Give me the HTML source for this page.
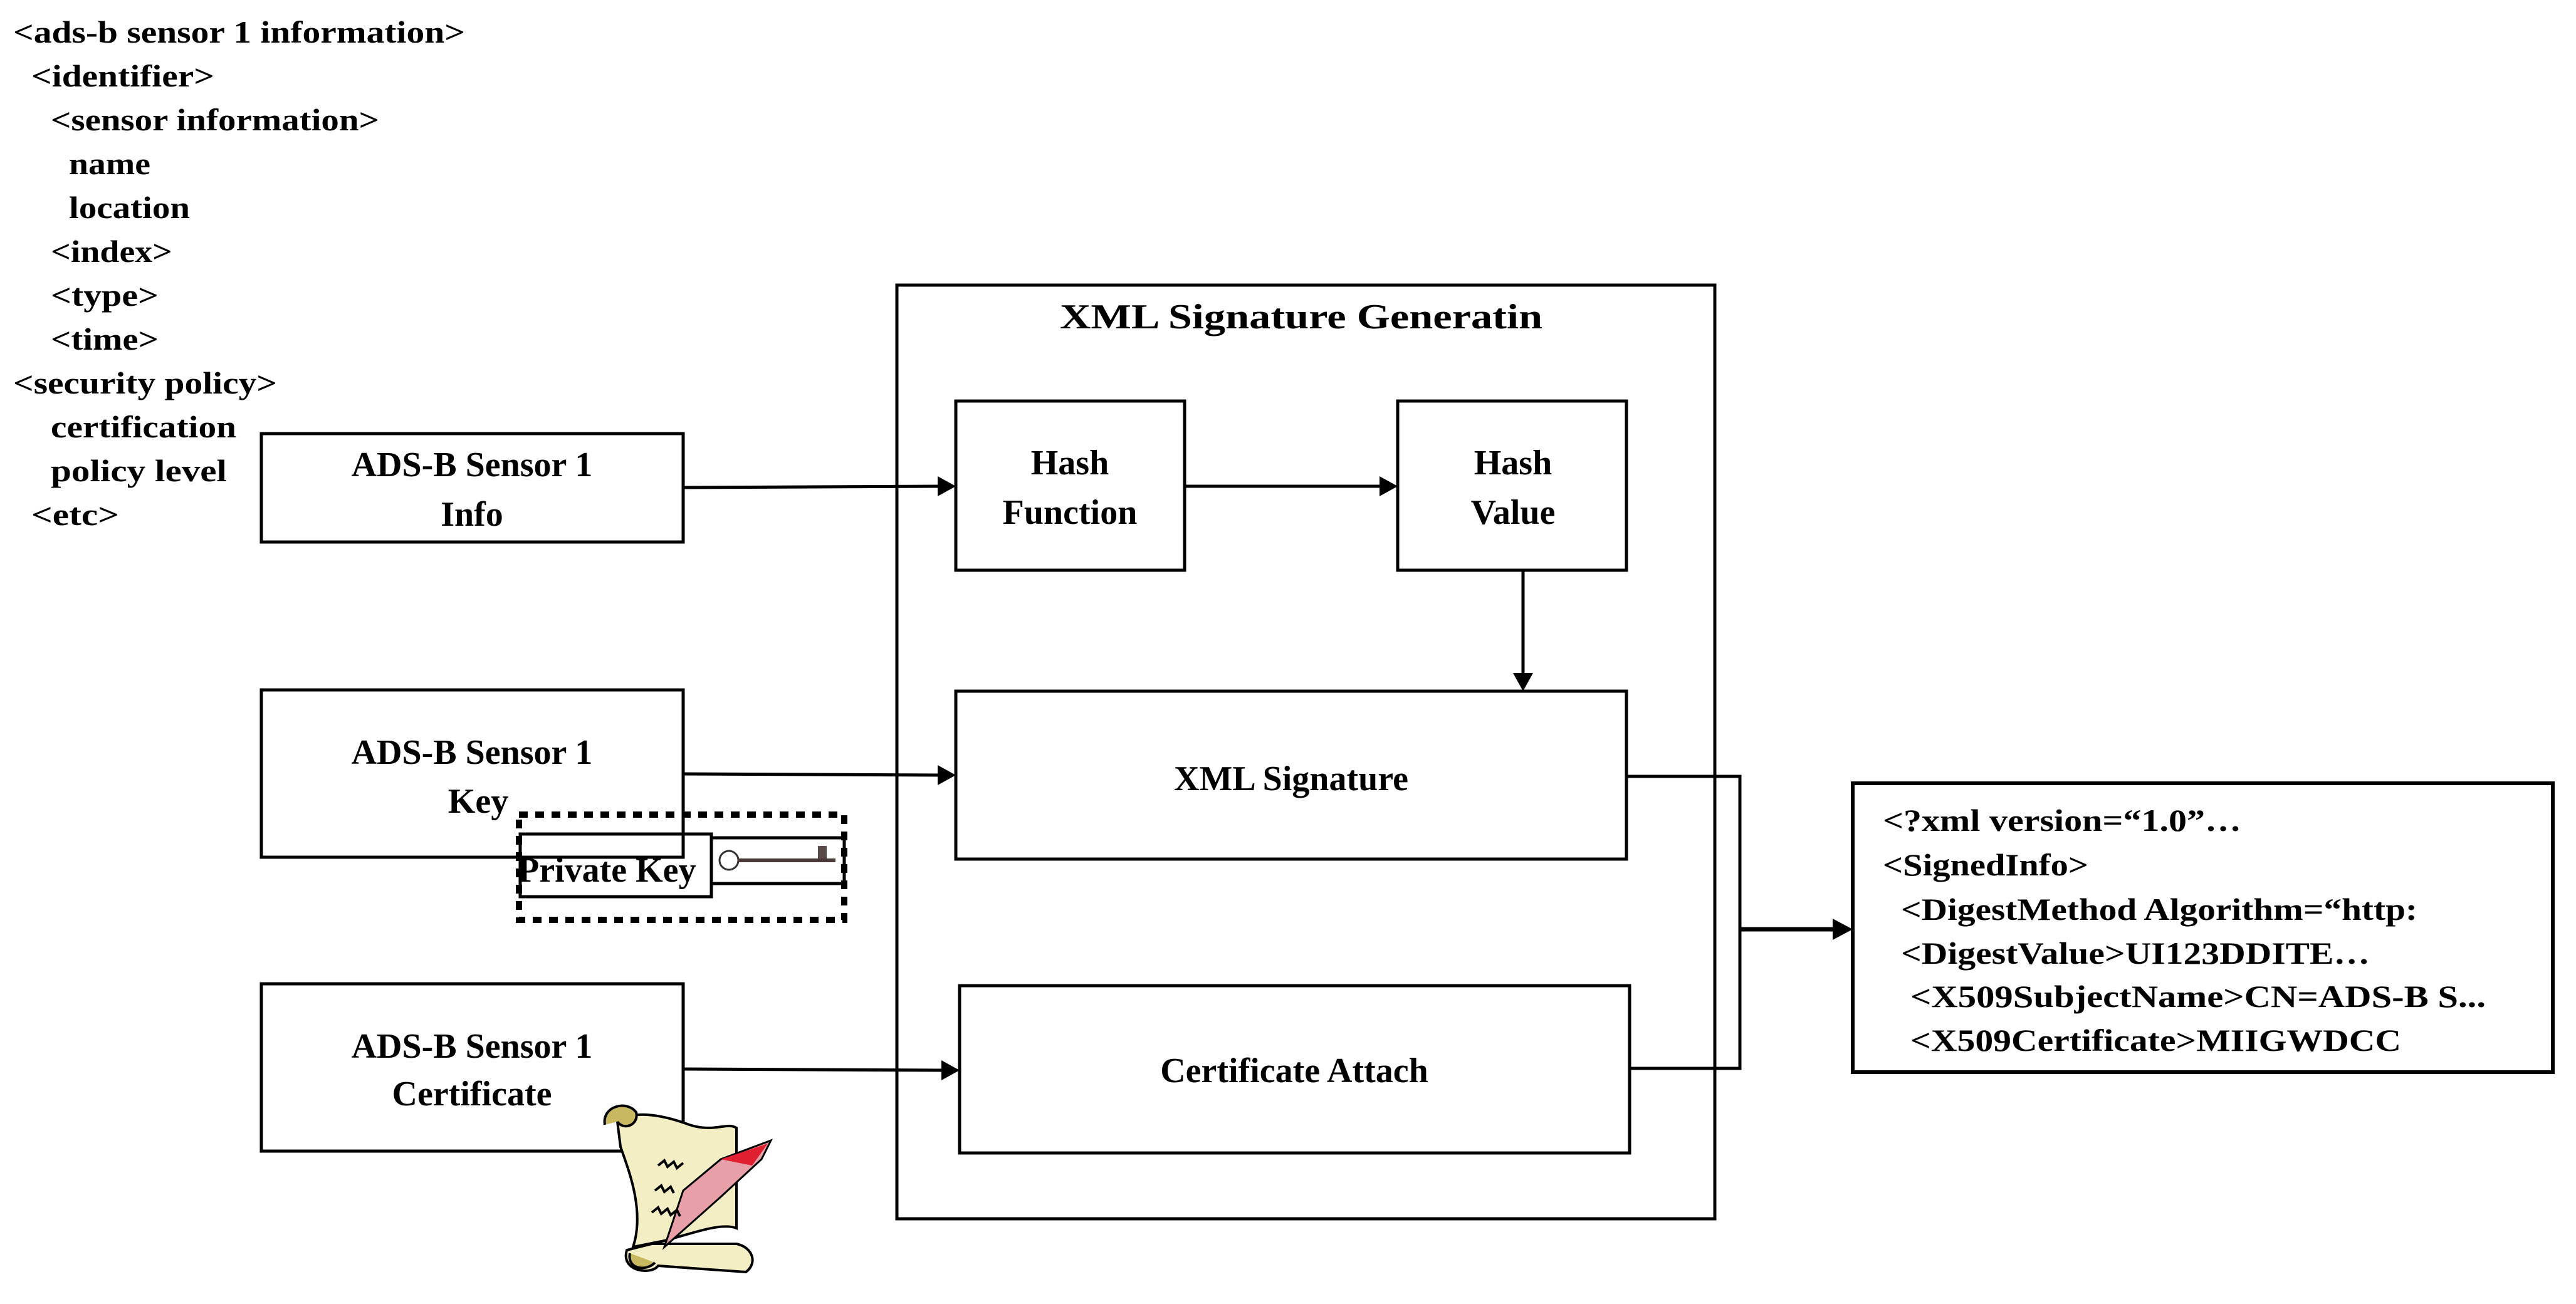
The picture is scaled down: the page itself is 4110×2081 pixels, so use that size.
<!DOCTYPE html>
<html><head><meta charset="utf-8"><style>html,body{margin:0;padding:0;background:#fff}svg{display:block}</style></head>
<body>
<svg xmlns="http://www.w3.org/2000/svg" width="4110" height="2081" viewBox="0 0 4110 2081">
<defs>
<marker id="ah" markerWidth="10" markerHeight="10" refX="9" refY="5" orient="auto" markerUnits="userSpaceOnUse" viewBox="0 0 10 10">
</marker>
</defs>
<g font-family="'Liberation Serif',serif" font-weight="bold" fill="#000">
<g font-size="50">
<text x="21" y="68" textLength="721" lengthAdjust="spacingAndGlyphs">&lt;ads-b sensor 1 information&gt;</text>
<text x="50" y="138" textLength="292" lengthAdjust="spacingAndGlyphs">&lt;identifier&gt;</text>
<text x="81" y="208" textLength="524" lengthAdjust="spacingAndGlyphs">&lt;sensor information&gt;</text>
<text x="110" y="278" textLength="130" lengthAdjust="spacingAndGlyphs">name</text>
<text x="110" y="348" textLength="193" lengthAdjust="spacingAndGlyphs">location</text>
<text x="81" y="418" textLength="194" lengthAdjust="spacingAndGlyphs">&lt;index&gt;</text>
<text x="81" y="488" textLength="172" lengthAdjust="spacingAndGlyphs">&lt;type&gt;</text>
<text x="81" y="558" textLength="172" lengthAdjust="spacingAndGlyphs">&lt;time&gt;</text>
<text x="21" y="628" textLength="421" lengthAdjust="spacingAndGlyphs">&lt;security policy&gt;</text>
<text x="81" y="698" textLength="296" lengthAdjust="spacingAndGlyphs">certification</text>
<text x="81" y="768" textLength="281" lengthAdjust="spacingAndGlyphs">policy level</text>
<text x="50" y="838" textLength="140" lengthAdjust="spacingAndGlyphs">&lt;etc&gt;</text>
</g>
</g>

<g fill="none" stroke="#000" stroke-width="5">
<rect x="1431" y="455" width="1305" height="1490"/>
<rect x="417" y="692" width="673" height="173"/>
<rect x="417" y="1101" width="673" height="267"/>
<rect x="417" y="1570" width="673" height="267"/>
<rect x="1525" y="640" width="365" height="270"/>
<rect x="2230" y="640" width="365" height="270"/>
<rect x="1525" y="1103" width="1070" height="268"/>
<rect x="1531" y="1573" width="1069" height="267"/>
<rect x="2956" y="1250" width="1117" height="461" stroke-width="6"/>
</g>

<g stroke="#000" stroke-width="5" fill="none">
<polyline points="1090,778 1500,776"/>
<polyline points="1890,776 2205,776"/>
<polyline points="2430,910 2430,1078"/>
<polyline points="1090,1235 1500,1237"/>
<polyline points="1090,1706 1506,1708"/>
<polyline points="2595,1239 2776,1239 2776,1705 2600,1705"/>
<polyline points="2776,1483 2930,1483" stroke-width="7"/>
</g>
<g fill="#000">
<polygon points="1525,776 1496,760 1496,792"/>
<polygon points="2230,776 2201,760 2201,792"/>
<polygon points="2430,1103 2414,1074 2446,1074"/>
<polygon points="1525,1237 1496,1221 1496,1253"/>
<polygon points="1531,1708 1502,1692 1502,1724"/>
<polygon points="2956,1483 2924,1466 2924,1500"/>
</g>

<g font-family="'Liberation Serif',serif" font-weight="bold" fill="#000" font-size="56" text-anchor="middle">
<text x="2076" y="524" textLength="770" lengthAdjust="spacingAndGlyphs">XML Signature Generatin</text>
<text x="753" y="760">ADS-B Sensor 1</text>
<text x="753" y="839">Info</text>
<text x="753" y="1219">ADS-B Sensor 1</text>
<text x="763" y="1297">Key</text>
<text x="753" y="1688">ADS-B Sensor 1</text>
<text x="753" y="1764">Certificate</text>
<text x="1707" y="757">Hash</text>
<text x="1707" y="836">Function</text>
<text x="2414" y="757">Hash</text>
<text x="2414" y="836">Value</text>
<text x="2060" y="1261">XML Signature</text>
<text x="2065" y="1727">Certificate Attach</text>
</g>

<g font-family="'Liberation Serif',serif" font-weight="bold" fill="#000" font-size="50">
<text x="3004" y="1326" textLength="572" lengthAdjust="spacingAndGlyphs">&lt;?xml version=“1.0”…</text>
<text x="3004" y="1397" textLength="328" lengthAdjust="spacingAndGlyphs">&lt;SignedInfo&gt;</text>
<text x="3033" y="1468" textLength="824" lengthAdjust="spacingAndGlyphs">&lt;DigestMethod Algorithm=“http:</text>
<text x="3033" y="1538" textLength="748" lengthAdjust="spacingAndGlyphs">&lt;DigestValue&gt;UI123DDITE…</text>
<text x="3048" y="1607" textLength="918" lengthAdjust="spacingAndGlyphs">&lt;X509SubjectName&gt;CN=ADS-B  S...</text>
<text x="3048" y="1677" textLength="783" lengthAdjust="spacingAndGlyphs">&lt;X509Certificate&gt;MIIGWDCC</text>
</g>

<!-- private key -->
<rect x="828" y="1300" width="519" height="168" fill="none" stroke="#000" stroke-width="10" stroke-dasharray="14,12"/>
<rect x="830" y="1331" width="305" height="100" fill="none" stroke="#000" stroke-width="5"/>
<rect x="1135" y="1337" width="212" height="73" fill="none" stroke="#000" stroke-width="5"/>
<text x="826" y="1407" font-family="'Liberation Serif',serif" font-weight="bold" font-size="56">Private Key</text>
<circle cx="1163" cy="1373" r="15" fill="#fff" stroke="#333" stroke-width="3"/>
<rect x="1178" y="1370" width="155" height="6" fill="#4a3a3a"/>
<rect x="1305" y="1350" width="14" height="20" fill="#5a4a4a"/>

<!-- scroll icon -->
<g stroke="#000" stroke-width="4">
<path d="M985,1790 C1010,1770 1060,1780 1100,1795 C1140,1808 1160,1790 1175,1800 L1175,1960 C1150,1950 1100,1970 1060,1980 L1010,1990 C1030,1930 1000,1860 990,1830 Z" fill="#f3eec4"/>
<path d="M965,1795 C960,1765 1000,1755 1015,1775 C1020,1795 995,1805 985,1790" fill="#c8b860"/>
<path d="M1000,1995 C990,2030 1040,2035 1050,2020 L1190,2030 C1210,2015 1200,1990 1175,1985 L1040,1985 Z" fill="#f3eec4"/>
<path d="M1005,2000 C1000,2025 1030,2030 1045,2015" fill="#c8b860"/>
</g>
<path d="M1060,1990 L1090,1900 L1150,1850 L1230,1820 L1215,1850 L1150,1910 Z" fill="#e8a0a8" stroke="#000" stroke-width="3"/>
<path d="M1150,1850 L1225,1825 L1200,1860 Z" fill="#e02030"/>
<g stroke="#000" stroke-width="4" fill="none">
<path d="M1050,1860 l10,-8 l5,10 l10,-8 l5,10 l10,-8"/>
<path d="M1045,1900 l10,-8 l5,10 l10,-8 l5,10"/>
<path d="M1040,1935 l10,-8 l5,10 l10,-8 l5,10 l10,-8 l5,10"/>
</g>
</svg>
</body></html>
